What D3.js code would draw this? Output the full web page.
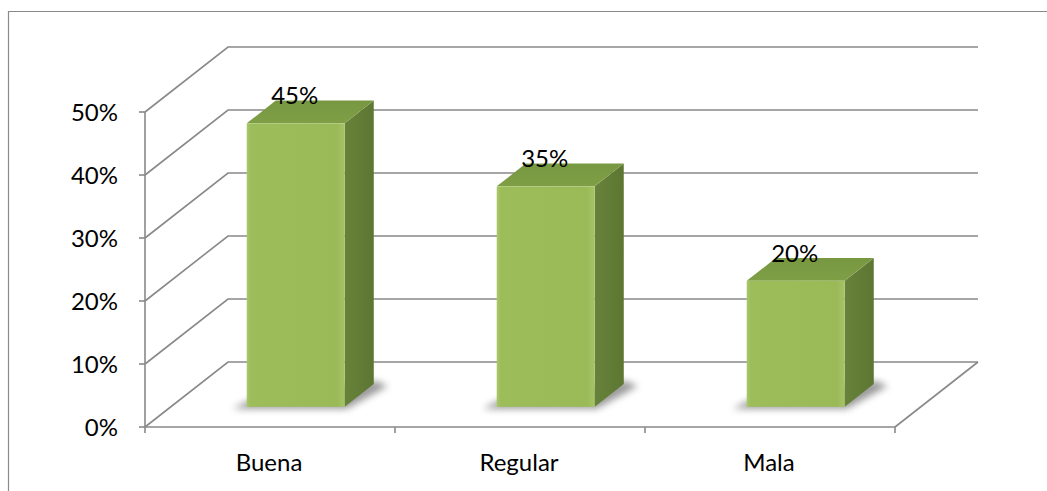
<!DOCTYPE html>
<html><head><meta charset="utf-8">
<script src="https://cdn.jsdelivr.net/npm/d3@7/dist/d3.min.js"></script>
<style>html,body{margin:0;padding:0;background:#fff;}svg{display:block;font-family:Lato,"Open Sans",sans-serif;}</style>
</head><body><svg id="c" width="1047" height="491"></svg>
<script>
const categories = ["Buena", "Regular", "Mala"];
const values = [0.45, 0.35, 0.20];
const valueLabels = ["45%", "35%", "20%"];
const tickValues = [0, 0.1, 0.2, 0.3, 0.4, 0.5];
const tickLabels = ["0%", "10%", "20%", "30%", "40%", "50%"];

const svg = d3.select("#c");
const DX = 83, DY = -65;           // depth offset of the back wall
const F0 = 0.31, F1 = 0.66;        // bar front / back depth fractions
const x = d3.scaleBand().domain(categories).range([145, 895]).paddingInner(0).paddingOuter(0);
const y = d3.scaleLinear().domain([0, 0.5]).range([427, 112]);
const barW = 98;
const grid = "#898989";
const FS = 24;

// outer border
svg.append("path").attr("d", "M8.5,491 V11.5 H1047").attr("fill", "none").attr("stroke", "#8a8a8a").attr("stroke-width", 1.2);

const defs = svg.append("defs");
const fg = defs.append("linearGradient").attr("id", "front").attr("x1", 0).attr("x2", 1).attr("y1", 0).attr("y2", 0);
fg.append("stop").attr("offset", 0).attr("stop-color", "#a9c86a");
fg.append("stop").attr("offset", 0.04).attr("stop-color", "#9dbd5b");
fg.append("stop").attr("offset", 0.92).attr("stop-color", "#9aba58");
fg.append("stop").attr("offset", 1).attr("stop-color", "#a6c466");
const sg = defs.append("linearGradient").attr("id", "side").attr("x1", 0).attr("x2", 1).attr("y1", 0).attr("y2", 0);
sg.append("stop").attr("offset", 0).attr("stop-color", "#67823a");
sg.append("stop").attr("offset", 1).attr("stop-color", "#5d7733");
const tg = defs.append("linearGradient").attr("id", "top").attr("x1", 0).attr("x2", 0).attr("y1", 1).attr("y2", 0);
tg.append("stop").attr("offset", 0).attr("stop-color", "#7f9f47");
tg.append("stop").attr("offset", 1).attr("stop-color", "#779840");
const blur = defs.append("filter").attr("id", "sh").attr("x", "-30%").attr("y", "-80%").attr("width", "160%").attr("height", "260%");
blur.append("feGaussianBlur").attr("stdDeviation", 3.5);

// walls & gridlines
const g = svg.append("g").attr("fill", "none").attr("stroke", grid).attr("stroke-width", 1.6);
tickValues.forEach(v => {
  const yy = y(v);
  g.append("path").attr("d", `M145,${yy} L${145 + DX},${yy + DY} H${895 + DX}`);
  g.append("line").attr("x1", 139).attr("x2", 145).attr("y1", yy).attr("y2", yy);
});
g.append("line").attr("x1", 145).attr("x2", 145).attr("y1", y(0.5)).attr("y2", y(0));
g.append("line").attr("x1", 145).attr("x2", 895).attr("y1", y(0)).attr("y2", y(0));
g.append("line").attr("x1", 895).attr("x2", 895 + DX).attr("y1", y(0)).attr("y2", y(0) + DY);
[145, ...categories.map(c => x(c) + x.bandwidth())].forEach(t => {
  g.append("line").attr("x1", t).attr("x2", t).attr("y1", y(0)).attr("y2", y(0) + 6);
});

// axis labels
svg.append("g").selectAll("text").data(tickValues).join("text")
  .attr("x", 118).attr("y", d => y(d) + 9).attr("text-anchor", "end")
  .attr("font-size", FS).attr("fill", "#000").text((d, i) => tickLabels[i]);
svg.append("g").selectAll("text").data(categories).join("text")
  .attr("x", d => x(d) + x.bandwidth() / 2 - 1).attr("y", 471).attr("text-anchor", "middle")
  .attr("font-size", FS).attr("fill", "#000").text(d => d);

// bars
const bars = svg.append("g");
categories.forEach((c, i) => {
  const cx = x(c) + x.bandwidth() / 2;
  const l = cx - barW / 2, r = cx + barW / 2;
  const ox0 = F0 * DX, oy0 = F0 * DY, ox1 = F1 * DX, oy1 = F1 * DY;
  const y0 = y(0), yv = y(values[i]);
  // shadow on floor
  bars.append("path").attr("filter", "url(#sh)").attr("fill", "#6f6f6f").attr("opacity", 0.7)
    .attr("d", `M${l + ox0 - 14},${y0 + oy0 + 2} L${r + ox0 + 2},${y0 + oy0 + 2} L${r + ox1 + 14},${y0 + oy1 + 2} L${r + ox1 + 2},${y0 + oy1 - 3} L${l + ox0 + 10},${y0 + oy0 - 10} Z`);
  // side
  bars.append("path").attr("fill", "url(#side)")
    .attr("d", `M${r + ox0},${yv + oy0} L${r + ox1},${yv + oy1} L${r + ox1},${y0 + oy1} L${r + ox0},${y0 + oy0} Z`);
  // top
  bars.append("path").attr("fill", "url(#top)")
    .attr("d", `M${l + ox0},${yv + oy0} L${l + ox1},${yv + oy1} L${r + ox1},${yv + oy1} L${r + ox0},${yv + oy0} Z`);
  // front
  bars.append("rect").attr("fill", "url(#front)")
    .attr("x", l + ox0).attr("y", yv + oy0).attr("width", barW).attr("height", y0 - yv);
  // label
  bars.append("text").attr("x", cx + ox0 - 1).attr("y", yv + oy0 - 19).attr("text-anchor", "middle")
    .attr("font-size", FS).attr("fill", "#000").text(valueLabels[i]);
});
</script></body></html>
